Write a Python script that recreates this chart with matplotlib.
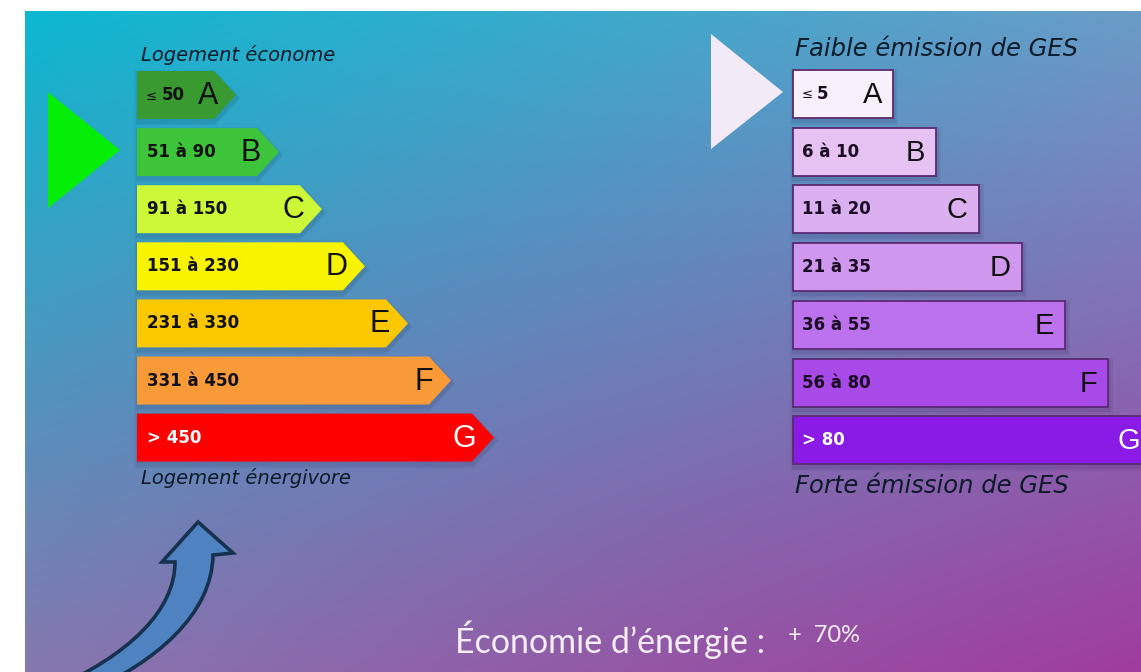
import numpy as np
import matplotlib
matplotlib.use("Agg")
import matplotlib.pyplot as plt
from matplotlib.patches import Polygon, PathPatch
from matplotlib.path import Path

# ---------------- data ----------------
energy_classes = ["A", "B", "C", "D", "E", "F", "G"]
energy_ranges = ["≤ 50", "51 à 90", "91 à 150", "151 à 230", "231 à 330", "331 à 450", "> 450"]
energy_colors = ["#3a9a32", "#3ec43a", "#cdf838", "#f8f400", "#fbc800", "#f99a38", "#ff0000"]
energy_current = "B"
energy_top = "Logement économe"
energy_bottom = "Logement énergivore"

ges_classes = ["A", "B", "C", "D", "E", "F", "G"]
ges_ranges = ["≤ 5", "6 à 10", "11 à 20", "21 à 35", "36 à 55", "56 à 80", "> 80"]
ges_colors = ["#f8f0fa", "#e5c2f2", "#dbb0f0", "#cf98ee", "#bc72ec", "#a84ae8", "#8a1ae6"]
ges_current = "A"
ges_top = "Faible émission de GES"
ges_bottom = "Forte émission de GES"

saving_label = "Économie d’énergie :"
saving_value = "+  70%"

# ---------------- figure ----------------
W, H = 1141, 672
fig = plt.figure(figsize=(W / 100, H / 100), dpi=100)
ax = fig.add_axes([0, 0, 1, 1])
ax.set_xlim(0, W)
ax.set_ylim(H, 0)
ax.axis("off")

# background gradient (white margin left/top)
x0b, y0b = 25, 11
gx = np.linspace(0, 1, 300)
gy = np.linspace(0, 1, 200)
U, V = np.meshgrid(gx, gy)
tl = np.array([12, 184, 208]) / 255
tr = np.array([106, 156, 200]) / 255
bl = np.array([134, 120, 176]) / 255
br = np.array([160, 60, 158]) / 255
img = (tl[None, None] * ((1 - U) * (1 - V))[..., None]
       + tr[None, None] * (U * (1 - V))[..., None]
       + bl[None, None] * ((1 - U) * V)[..., None]
       + br[None, None] * (U * V)[..., None])
ax.imshow(img, extent=[x0b, W, H, y0b], aspect="auto", interpolation="bilinear", zorder=0)

txt_dark = "#0d1b2a"

# ---------------- energy label (left) ----------------
ex0 = 137
e_c0, e_step, e_h = 95, 57.1, 48
e_len0, e_dlen = 99, 43
tip = 22
for i, (cls, rng, col) in enumerate(zip(energy_classes, energy_ranges, energy_colors)):
    c = e_c0 + e_step * i
    L = e_len0 + e_dlen * i
    top, bot = c - e_h / 2, c + e_h / 2
    # soft shadow
    for k, a in ((4, 0.06), (2, 0.08)):
        sh = Polygon([(ex0 - k + 1, top - k + 3), (ex0 + L - tip + 1, top - k + 3),
                      (ex0 + L + k + 1, c + 3), (ex0 + L - tip + 1, bot + k + 3),
                      (ex0 - k + 1, bot + k + 3)],
                     closed=True, facecolor="#102040", alpha=a, edgecolor="none", zorder=1)
        ax.add_patch(sh)
    poly = Polygon([(ex0, top), (ex0 + L - tip, top), (ex0 + L, c),
                    (ex0 + L - tip, bot), (ex0, bot)],
                   closed=True, facecolor=col, edgecolor="none", zorder=2)
    ax.add_patch(poly)
    tcol = "white" if cls == "G" else "#111111"
    if rng.startswith("≤"):
        ax.text(ex0 + 9, c + 1, "≤", fontsize=9.5, color=tcol, va="center", ha="left", zorder=3)
        ax.text(ex0 + 25, c, rng[1:].strip(), fontsize=12, fontweight="bold",
                color=tcol, va="center", ha="left", zorder=3)
    else:
        ax.text(ex0 + 10, c, rng, fontsize=12, fontweight="bold",
                color=tcol, va="center", ha="left", zorder=3)
    ax.text(ex0 + L - 18, c + 1, cls, fontsize=22, family="Liberation Sans",
            color=tcol, va="center", ha="right", zorder=3)

ax.text(ex0 + 4, 55, energy_top, fontsize=14, style="italic", color=txt_dark,
        va="center", ha="left", zorder=3)
ax.text(ex0 + 4, 478, energy_bottom, fontsize=14, style="italic", color=txt_dark,
        va="center", ha="left", zorder=3)

# current-class pointer
ei = energy_classes.index(energy_current)
ec = e_c0 + e_step * ei - 2
ax.add_patch(Polygon([(48, ec - 58), (48, ec + 58), (120, ec)], closed=True,
                     facecolor="#05ee05", edgecolor="none", zorder=2))

# ---------------- GES label (right) ----------------
gx0 = 793
g_c0, g_step, g_h = 94, 57.7, 48
g_len0, g_dlen = 100, 43
for i, (cls, rng, col) in enumerate(zip(ges_classes, ges_ranges, ges_colors)):
    c = g_c0 + g_step * i
    L = g_len0 + g_dlen * i
    for k, a in ((4, 0.06), (2, 0.08)):
        ax.barh(c + 3, L + 2 * k, left=gx0 - k + 1, height=g_h + 2 * k, color="#201040",
                alpha=a, edgecolor="none", zorder=1)
    ax.barh(c, L, left=gx0, height=g_h, color=col, edgecolor="#5a2a72",
            linewidth=1.3, zorder=2)
    tcol = "white" if cls == "G" else "#1a0a24"
    if rng.startswith("≤"):
        ax.text(gx0 + 9, c + 1, "≤", fontsize=9.5, color=tcol, va="center", ha="left", zorder=3)
        ax.text(gx0 + 24, c, rng[1:].strip(), fontsize=12, fontweight="bold",
                color=tcol, va="center", ha="left", zorder=3)
    else:
        ax.text(gx0 + 9, c, rng, fontsize=12, fontweight="bold",
                color=tcol, va="center", ha="left", zorder=3)
    ax.text(gx0 + L - 11, c + 1, cls, fontsize=21, family="Liberation Sans",
            color="white" if cls == "G" else "#111111", va="center", ha="right", zorder=3)

ax.text(gx0 + 2, 49, ges_top, fontsize=17.5, style="italic", color=txt_dark,
        va="center", ha="left", zorder=3)
ax.text(gx0 + 2, 486, ges_bottom, fontsize=17.5, style="italic", color=txt_dark,
        va="center", ha="left", zorder=3)

gi = ges_classes.index(ges_current)
gc = g_c0 + g_step * gi - 2
ax.add_patch(Polygon([(711, gc - 58), (711, gc + 57), (783, gc)], closed=True,
                     facecolor="#f2eaf6", edgecolor="none", zorder=2))

# ---------------- curved arrow ----------------
verts = [(50, 690), (130, 655), (175, 610), (175, 562),
         (162, 562), (198, 522), (233, 553), (213, 555),
         (212, 615), (155, 662), (88, 692), (50, 690)]
codes = [Path.MOVETO, Path.CURVE4, Path.CURVE4, Path.CURVE4,
         Path.LINETO, Path.LINETO, Path.LINETO, Path.LINETO,
         Path.CURVE4, Path.CURVE4, Path.CURVE4, Path.CLOSEPOLY]
ax.add_patch(PathPatch(Path(verts, codes), facecolor="#4f82c0", edgecolor="#17324f",
                       linewidth=2.6, joinstyle="miter", zorder=4))

# ---------------- saving text ----------------
ax.text(455, 640, saving_label, fontsize=24.5, family="Lato", color="#f6eef8",
        va="center", ha="left", zorder=3)
ax.text(788, 636, saving_value, fontsize=17, family="Lato", color="#f6eef8",
        va="center", ha="left", zorder=3)

fig.savefig("out.png", dpi=100)
